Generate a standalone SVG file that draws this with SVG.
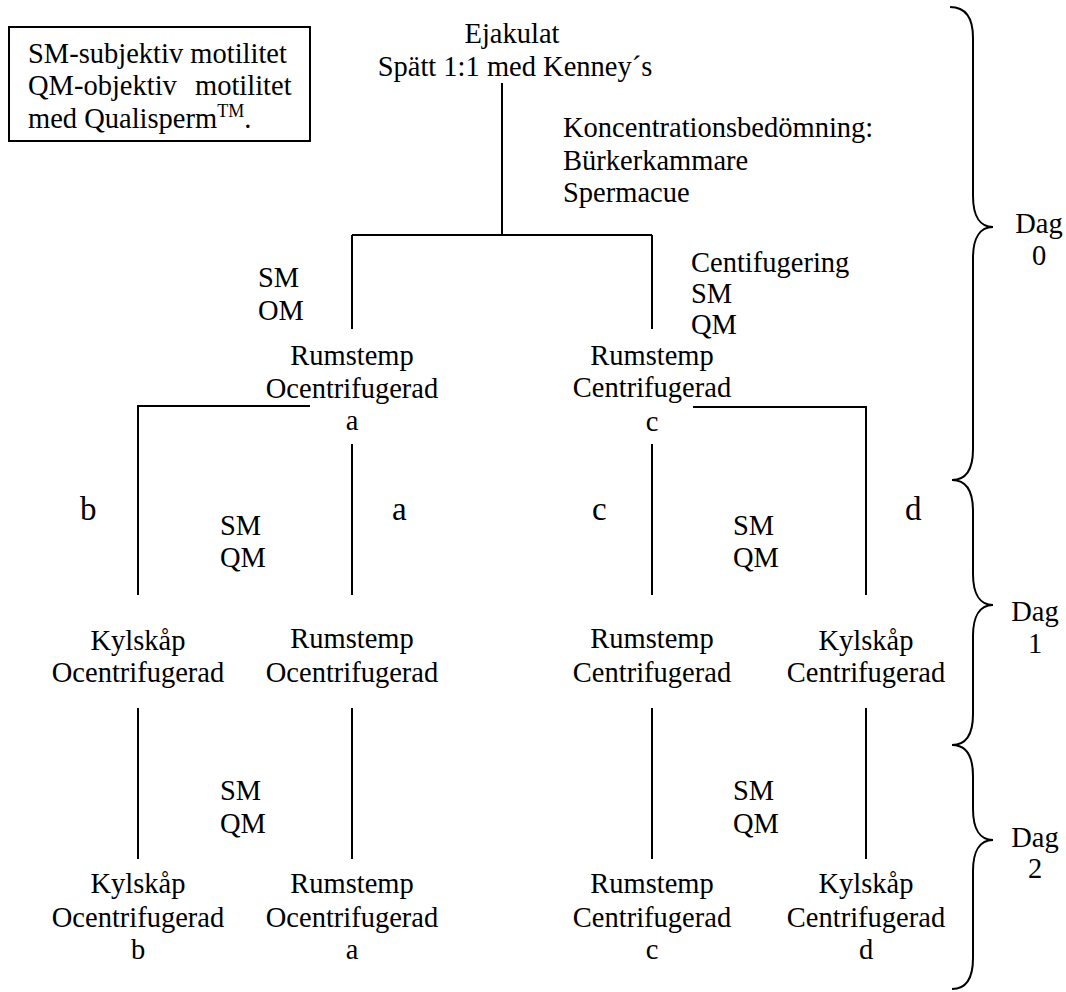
<svg xmlns="http://www.w3.org/2000/svg" width="1066" height="992" viewBox="0 0 1066 992">
<style>
text{font-family:"Liberation Serif","Times New Roman",serif;font-size:28.5px;fill:#000}
.m{text-anchor:middle}
.big{font-size:33px}
.sup{font-size:18px}
.ln{stroke:#000;stroke-width:2;fill:none}
.br{stroke:#000;stroke-width:2;fill:none}
</style>
<rect width="1066" height="992" fill="#fff"/>

<g id="legend">
<rect x="9" y="27" width="301" height="114" class="ln"/>
<text x="28" y="63">SM-subjektiv motilitet</text>
<text x="28" y="95">QM-objektiv<tspan x="195">motilitet</tspan></text>
<text x="28" y="128">med Qualisperm<tspan class="sup" dy="-11">TM</tspan><tspan dy="11">.</tspan></text>
</g>

<g id="connectors">
<path class="ln" d="M502 83V235M352 235H652M352 235V329M652 235V329"/>
<path class="ln" d="M310 406H138V595M352 444V595"/>
<path class="ln" d="M693 407H866V595M652 444V595"/>
<path class="ln" d="M138 708V859M352 708V859M652 708V859M866 708V859"/>
</g>

<g id="ejakulat">
<text class="m" x="512" y="43">Ejakulat</text>
<text class="m" x="515" y="76">Spätt 1:1 med Kenney´s</text>
</g>
<g id="koncentration">
<text x="563" y="137">Koncentrationsbedömning:</text>
<text x="563" y="170">Bürkerkammare</text>
<text x="563" y="202">Spermacue</text>
</g>
<g id="label-sm-om">
<text x="258" y="287">SM</text>
<text x="258" y="320">OM</text>
</g>
<g id="label-centrifugering">
<text x="691" y="272">Centifugering</text>
<text x="691" y="303">SM</text>
<text x="691" y="334">QM</text>
</g>
<g id="node-a0">
<text class="m" x="352" y="365">Rumstemp</text>
<text class="m" x="352" y="398">Ocentrifugerad</text>
<text class="m" x="352" y="430">a</text>
</g>
<g id="node-c0">
<text class="m" x="652" y="365">Rumstemp</text>
<text class="m" x="652" y="397">Centrifugerad</text>
<text class="m" x="652" y="431">c</text>
</g>
<g id="branch-labels">
<text class="big" x="80" y="520">b</text>
<text class="big" x="392" y="520">a</text>
<text class="big" x="592" y="520">c</text>
<text class="big" x="905" y="520">d</text>
</g>
<g id="label-day1-left">
<text x="220" y="535">SM</text>
<text x="220" y="567">QM</text>
</g>
<g id="label-day1-right">
<text x="733" y="535">SM</text>
<text x="733" y="567">QM</text>
</g>
<g id="node-b1">
<text class="m" x="138" y="650">Kylskåp</text>
<text class="m" x="138" y="682">Ocentrifugerad</text>
</g>
<g id="node-a1">
<text class="m" x="352" y="648">Rumstemp</text>
<text class="m" x="352" y="682">Ocentrifugerad</text>
</g>
<g id="node-c1">
<text class="m" x="652" y="648">Rumstemp</text>
<text class="m" x="652" y="682">Centrifugerad</text>
</g>
<g id="node-d1">
<text class="m" x="866" y="650">Kylskåp</text>
<text class="m" x="866" y="682">Centrifugerad</text>
</g>
<g id="label-day2-left">
<text x="220" y="800">SM</text>
<text x="220" y="833">QM</text>
</g>
<g id="label-day2-right">
<text x="733" y="800">SM</text>
<text x="733" y="833">QM</text>
</g>
<g id="node-b2">
<text class="m" x="138" y="893">Kylskåp</text>
<text class="m" x="138" y="927">Ocentrifugerad</text>
<text class="m" x="138" y="959">b</text>
</g>
<g id="node-a2">
<text class="m" x="352" y="893">Rumstemp</text>
<text class="m" x="352" y="927">Ocentrifugerad</text>
<text class="m" x="352" y="959">a</text>
</g>
<g id="node-c2">
<text class="m" x="652" y="893">Rumstemp</text>
<text class="m" x="652" y="927">Centrifugerad</text>
<text class="m" x="652" y="959">c</text>
</g>
<g id="node-d2">
<text class="m" x="866" y="893">Kylskåp</text>
<text class="m" x="866" y="927">Centrifugerad</text>
<text class="m" x="866" y="959">d</text>
</g>

<g id="day0">
<path class="br" d="M950 7C966 7 973 18 973 38V196C973 216 980 227 993 227C980 227 973 238 973 258V449C973 469 966 480 952 480"/>
<text class="m" x="1039" y="233">Dag</text>
<text class="m" x="1039" y="265">0</text>
</g>
<g id="day1">
<path class="br" d="M952 480C966 480 973 491 973 511V574C973 594 980 605 993 605C980 605 973 616 973 636V714C973 734 966 745 952 745"/>
<text class="m" x="1035" y="621">Dag</text>
<text class="m" x="1035" y="653">1</text>
</g>
<g id="day2">
<path class="br" d="M952 745C966 745 973 756 973 776V809C973 829 980 840 993 840C980 840 973 851 973 871V958C973 978 966 989 952 989"/>
<text class="m" x="1035" y="847">Dag</text>
<text class="m" x="1035" y="878">2</text>
</g>
</svg>
